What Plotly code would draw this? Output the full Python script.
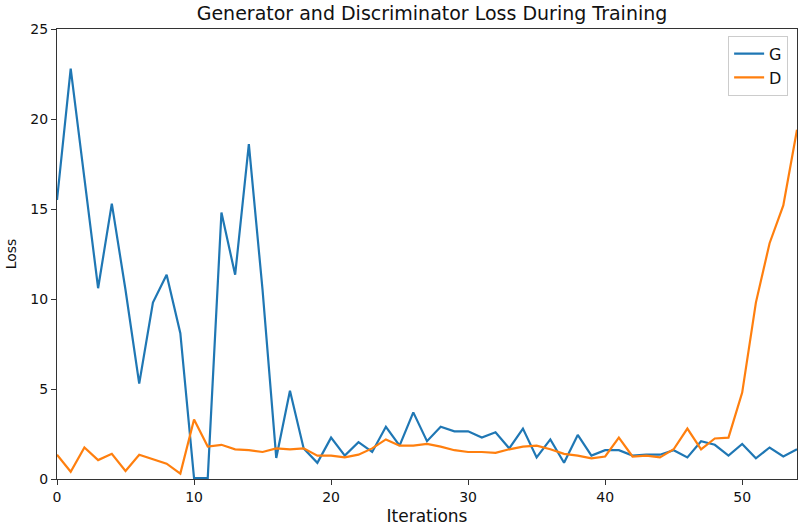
import plotly.graph_objects as go

iterations = list(range(55))
G_losses = [15.5, 22.8, 16.7, 10.6, 15.3, 10.5, 5.3, 9.8, 11.35, 8.1,
            0.05, 0.05, 14.8, 11.35, 18.6, 10.5, 1.17, 4.9, 1.7, 0.9,
            2.3, 1.3, 2.05, 1.5, 2.9, 1.85, 3.7, 2.1, 2.9, 2.65,
            2.65, 2.3, 2.6, 1.7, 2.8, 1.2, 2.2, 0.9, 2.45, 1.3,
            1.6, 1.6, 1.3, 1.35, 1.35, 1.6, 1.2, 2.1, 1.9, 1.3,
            1.95, 1.15, 1.75, 1.25, 1.65]
D_losses = [1.35, 0.4, 1.75, 1.05, 1.4, 0.45, 1.35, 1.1, 0.85, 0.3,
            3.3, 1.8, 1.9, 1.65, 1.6, 1.5, 1.7, 1.65, 1.7, 1.3,
            1.3, 1.2, 1.35, 1.7, 2.2, 1.85, 1.85, 1.95, 1.8, 1.6,
            1.5, 1.5, 1.45, 1.65, 1.8, 1.85, 1.65, 1.4, 1.3, 1.15,
            1.25, 2.3, 1.25, 1.3, 1.2, 1.65, 2.8, 1.65, 2.25, 2.3,
            4.8, 9.8, 13.1, 15.2, 19.4]

x_ticks = [0, 10, 20, 30, 40, 50]
y_ticks = [0, 5, 10, 15, 20, 25]

FONT = "DejaVu Sans"

fig = go.Figure()
fig.add_trace(go.Scatter(x=iterations, y=G_losses, mode="lines", name="G",
                         line=dict(color="#1f77b4", width=2.2)))
fig.add_trace(go.Scatter(x=iterations, y=D_losses, mode="lines", name="D",
                         line=dict(color="#ff7f0e", width=2.2)))

axis_common = dict(showline=True, linecolor="#333333", linewidth=1.3, mirror=True,
                   ticks="outside", ticklen=5, tickcolor="#333333", tickwidth=1.3,
                   showgrid=False, zeroline=False, automargin=False,
                   tickfont=dict(family=FONT, size=14, color="#111111"))

fig.update_layout(
    width=800, height=528,
    margin=dict(l=57, r=3, t=29, b=49),
    paper_bgcolor="white", plot_bgcolor="white",
    title=dict(text="Generator and Discriminator Loss During Training",
               x=0.54, xanchor="center", y=1 - 13 / 528, yanchor="middle",
               font=dict(family=FONT, size=19, color="#111111")),
    xaxis=dict(range=[0, 54], tickvals=x_ticks,
               title=dict(text="Iterations", standoff=6,
                          font=dict(family=FONT, size=17, color="#111111")),
               **axis_common),
    yaxis=dict(range=[0, 25], tickvals=y_ticks,
               title=dict(text="Loss", standoff=10,
                          font=dict(family=FONT, size=14, color="#111111")),
               **axis_common),
    legend=dict(x=0.988, y=0.985, xanchor="right", yanchor="top",
                bgcolor="rgba(255,255,255,0.8)", bordercolor="#cccccc", borderwidth=1,
                font=dict(family=FONT, size=16, color="#111111")),
    showlegend=True,
)

fig.write_html("out.html")
